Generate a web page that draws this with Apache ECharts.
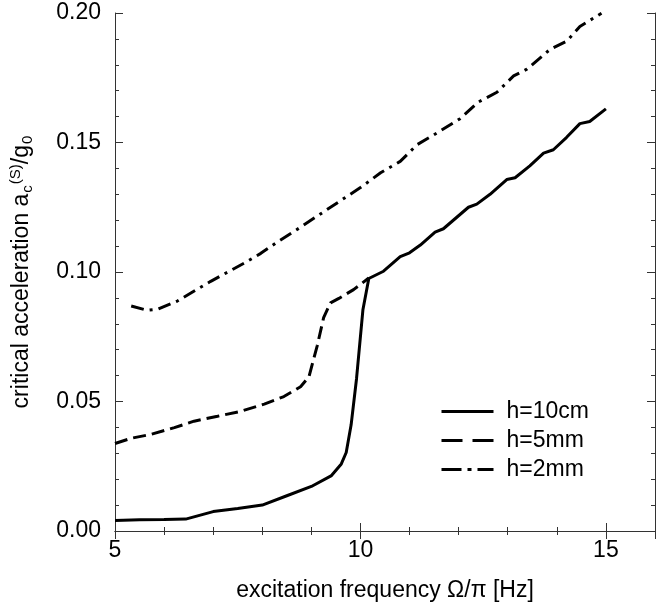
<!DOCTYPE html>
<html>
<head>
<meta charset="utf-8">
<script src="https://cdn.jsdelivr.net/npm/echarts@6/dist/echarts.min.js"></script>
<style>html,body{margin:0;padding:0;background:#fff}#c{width:665px;height:607px}</style>
</head>
<body>
<div id="c"></div>
<script>
// h = 10 cm (solid)
const h10X = [5.0, 5.5, 6.0, 6.44, 7.0, 7.5, 8.0, 8.5, 9.0, 9.41, 9.61, 9.71, 9.81, 9.92, 10.05, 10.17, 10.47, 10.81, 11.0, 11.22, 11.52, 11.69, 12.2, 12.37, 12.64, 12.98, 13.15, 13.45, 13.73, 13.93, 14.2, 14.47, 14.67, 15.0];
const h10Y = [0.0041, 0.0043, 0.0044, 0.0046, 0.0075, 0.0087, 0.0100, 0.0136, 0.0172, 0.0214, 0.0259, 0.0303, 0.0410, 0.0588, 0.0854, 0.0975, 0.1003, 0.1059, 0.1074, 0.1104, 0.1154, 0.1167, 0.1250, 0.1262, 0.1300, 0.1357, 0.1364, 0.1410, 0.1459, 0.1472, 0.1520, 0.1573, 0.1581, 0.1630];
// h = 5 mm (dashed)
const h5X = [5.0, 5.33, 5.73, 6.21, 6.61, 7.09, 7.56, 8.04, 8.44, 8.78, 8.95, 9.12, 9.25, 9.39, 9.56, 9.86, 10.17];
const h5Y = [0.0338, 0.0358, 0.0373, 0.0399, 0.0424, 0.0443, 0.0462, 0.0490, 0.0519, 0.0557, 0.0595, 0.0716, 0.0824, 0.0881, 0.0898, 0.0932, 0.0977];
// h = 2 mm (dash-dot)
const h2X = [5.33, 5.66, 5.87, 6.27, 6.95, 7.63, 7.97, 8.31, 8.78, 9.39, 10.0, 10.41, 10.81, 11.15, 11.49, 12.03, 12.40, 12.78, 13.12, 13.39, 13.86, 14.20, 14.47, 14.91];
const h2Y = [0.0869, 0.0852, 0.0856, 0.0888, 0.0964, 0.1034, 0.1072, 0.1116, 0.1173, 0.1250, 0.1326, 0.1383, 0.1427, 0.1491, 0.1529, 0.1592, 0.1656, 0.1694, 0.1757, 0.1783, 0.1859, 0.1891, 0.1948, 0.1999];

const seriesNames = ['h=10cm', 'h=5mm', 'h=2mm'];
const xTicks = [5, 10, 15];
const yTicks = [0, 0.05, 0.10, 0.15, 0.20];

const zip = (xs, ys) => xs.map((x, i) => [x, ys[i]]);
const FONT = 'Liberation Sans, Arial, Helvetica, sans-serif';
const FS = 23;
const axColor = '#333';

const chart = echarts.init(document.getElementById('c'), null, {renderer: 'canvas'});

const baseX = {
  type: 'value', min: 5, max: 16, interval: 5,
  axisLine: {show: true, lineStyle: {color: axColor, width: 1}},
  axisTick: {show: true, inside: true, length: 8, lineStyle: {color: axColor}},
  minorTick: {show: true, splitNumber: 5, length: 4, lineStyle: {color: axColor}},
  splitLine: {show: false}
};
const baseY = {
  type: 'value', min: 0, max: 0.2, interval: 0.05,
  axisLine: {show: true, lineStyle: {color: axColor, width: 1}},
  axisTick: {show: true, inside: true, length: 8, lineStyle: {color: axColor}},
  minorTick: {show: true, splitNumber: 5, length: 4, lineStyle: {color: axColor}},
  splitLine: {show: false}
};

const lineTypes = ['solid', [13, 6], [13, 6, 3, 6]];
const legendTypes = ['solid', [21, 10], [20, 6, 4, 6]];

chart.setOption({
  animation: false,
  backgroundColor: '#fff',
  grid: {left: 114, right: 10, top: 13, bottom: 69, containLabel: false},
  xAxis: [
    Object.assign({}, baseX, {
      position: 'bottom',
      axisLabel: {
        show: true, margin: 8, color: '#000', fontSize: FS, fontFamily: FONT,
        formatter: v => xTicks.includes(v) ? String(v) : ''
      },
      name: 'excitation frequency Ω/π [Hz]',
      nameLocation: 'middle', nameGap: 48,
      nameTextStyle: {color: '#000', fontSize: FS, fontFamily: FONT}
    }),
    Object.assign({}, baseX, {position: 'top', axisLabel: {show: false}})
  ],
  yAxis: [
    Object.assign({}, baseY, {
      position: 'left',
      axisLabel: {
        show: true, margin: 14, color: '#000', fontSize: FS, fontFamily: FONT,
        formatter: v => v.toFixed(2)
      },
      name: '{n|critical acceleration a}{sub|c}{sup|(S)}{n|/g}{sub|0}',
      nameLocation: 'middle', nameGap: 80, nameRotate: 90,
      nameTextStyle: {
        color: '#000', fontFamily: FONT,
        rich: {
          n: {fontSize: FS, fontFamily: FONT, color: '#000'},
          sub: {fontSize: 15, fontFamily: FONT, color: '#000', padding: [12, 0, 0, 1]},
          sup: {fontSize: 15, fontFamily: FONT, color: '#000', padding: [0, 0, 12, 1]}
        }
      }
    }),
    Object.assign({}, baseY, {position: 'right', axisLabel: {show: false}})
  ],
  legend: {
    show: true, orient: 'vertical', left: 435, top: 395,
    itemWidth: 52, itemHeight: 14, itemGap: 6,
    itemStyle: {opacity: 0},
    textStyle: {color: '#000', fontSize: FS, fontFamily: FONT, padding: [0, 0, 0, 8]},
    data: seriesNames.map((n, i) => ({
      name: n,
      itemStyle: {opacity: 0},
      lineStyle: {color: '#000', width: 3, type: legendTypes[i], opacity: 1}
    }))
  },
  series: seriesNames.map((n, i) => ({
    name: n, type: 'line',
    data: [zip(h10X, h10Y), zip(h5X, h5Y), zip(h2X, h2Y)][i],
    showSymbol: false, symbol: 'none',
    lineStyle: {color: '#000', width: 3, type: lineTypes[i]},
    itemStyle: {color: '#000'}
  }))
});
</script>
</body>
</html>
